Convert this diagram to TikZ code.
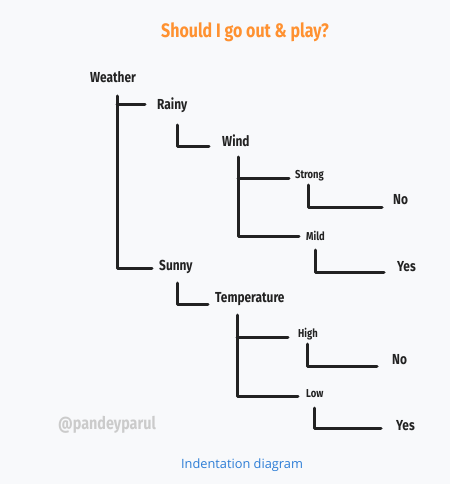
\documentclass[tikz,border=0pt]{standalone}
\usepackage{fontspec}
\usetikzlibrary{calc}
\newfontfamily\hand{Fira Sans}[FakeStretch=0.82]
\newfontfamily\capfont{Open Sans}
\definecolor{bgc}{HTML}{F8F9FB}
\definecolor{ink}{HTML}{222222}
\definecolor{titlec}{HTML}{FF9130}
\definecolor{markc}{HTML}{CBCBCB}
\definecolor{capc}{HTML}{2C7DD6}
\tikzset{
  lbl/.style={anchor=west, inner sep=0pt, text=ink, font=\hand\bfseries\fontsize{14.5}{14.5}\selectfont},
  slbl/.style={anchor=west, inner sep=0pt, text=ink, font=\hand\bfseries\fontsize{11.5}{11.5}\selectfont},
  conn/.style={draw=ink, line width=3pt, line cap=round, line join=round},
}
\begin{document}
\begin{tikzpicture}[x=1pt,y=-1pt]
\fill[bgc] (0,0) rectangle (450,484);
\useasboundingbox (0,0) rectangle (450,484);
\node[inner sep=0pt, text=titlec, font=\hand\bfseries\fontsize{19.5}{19.5}\selectfont] (title) at (245,32) {Should I go out \& play?};
\node[lbl] (w) at (90,77) {Weather};
\node[lbl] (rainy) at (157,105) {Rainy};
\node[lbl] (wind) at (222,141) {Wind};
\node[slbl] (strong) at (295,176) {Strong};
\node[slbl] (mild) at (306,236) {Mild};
\node[lbl] (no1) at (393,200) {No};
\node[lbl] (yes1) at (397,267) {Yes};
\node[lbl] (sunny) at (159,267) {Sunny};
\node[lbl] (temp) at (215,299) {Temperature};
\node[slbl] (high) at (298,334) {High};
\node[slbl] (low) at (306,394) {Low};
\node[lbl] (no2) at (392,360) {No};
\node[lbl] (yes2) at (396,426) {Yes};
\node[anchor=west, inner sep=0pt, text=markc, font=\hand\bfseries\fontsize{17.5}{17.5}\selectfont] (mark) at (58,425) {@pandeyparul};
\node[inner sep=0pt, text=capc, font=\capfont\fontsize{12.8}{12.8}\selectfont] (cap) at (242,465) {Indentation diagram};
% connectors
\draw[conn] ($(w.west)+(27,19)$) |- ($(sunny.west)+(-7,1)$);
\draw[conn] ($(w.west)+(27,28)$) -- ($(rainy.west)+(-12,0)$);
\draw[conn] ($(rainy.west)+(20,20)$) |- ($(wind.west)+(-13,5)$);
\draw[conn] ($(wind.west)+(16,16)$) |- ($(mild.west)+(-7,0)$);
\draw[conn] ($(wind.west)+(16,37)$) -- ($(strong.west)+(-6,2)$);
\draw[conn] ($(strong.west)+(13,9)$) |- ($(no1.west)+(-11,7)$);
\draw[conn] ($(mild.west)+(9,14)$) |- ($(yes1.west)+(-13,5)$);
\draw[conn] ($(sunny.west)+(18,16)$) |- ($(temp.west)+(-7,5)$);
\draw[conn] ($(temp.west)+(22,16)$) |- ($(low.west)+(-8,2)$);
\draw[conn] ($(temp.west)+(22,38)$) -- ($(high.west)+(-10,3)$);
\draw[conn] ($(high.west)+(9,10)$) |- ($(no2.west)+(-15,6)$);
\draw[conn] ($(low.west)+(8,14)$) |- ($(yes2.west)+(-15,2)$);
\end{tikzpicture}
\end{document}
